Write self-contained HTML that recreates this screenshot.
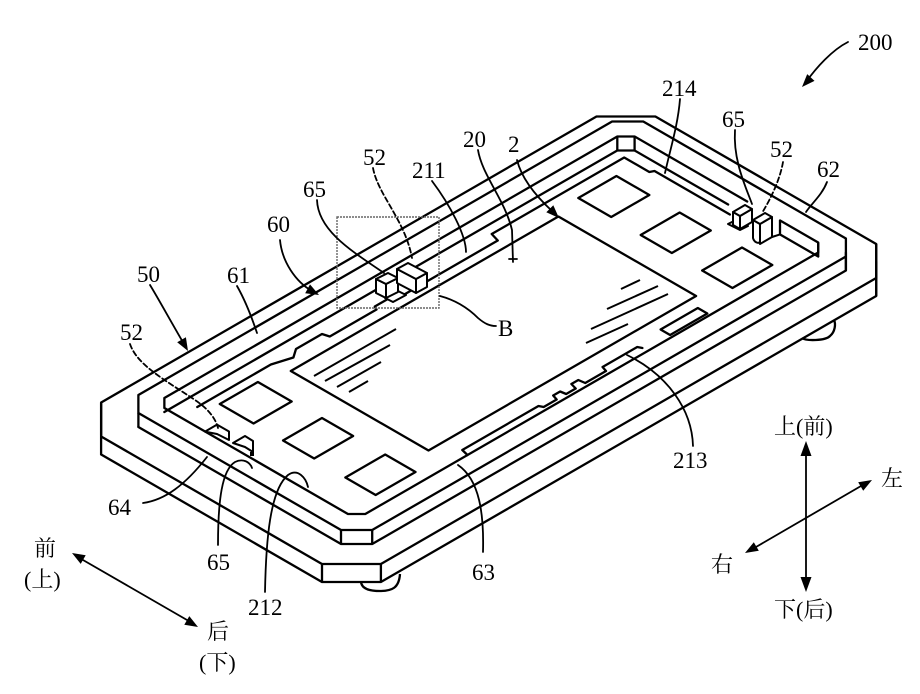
<!DOCTYPE html>
<html>
<head>
<meta charset="utf-8">
<style>
html,body{margin:0;padding:0;background:#fff;}
svg{display:block}
.s *{vector-effect:non-scaling-stroke}
text{font-family:"Liberation Serif","Noto Serif CJK SC",serif;fill:#000}
.n{font-size:23px}
.c{font-size:22px}
</style>
</head>
<body>
<svg width="920" height="694" viewBox="0 0 920 694" xmlns="http://www.w3.org/2000/svg">

<!-- ===== Plane geometry (isometric) ===== -->
<g class="s" fill="none" stroke="#000" stroke-width="2.3" stroke-linejoin="round" stroke-linecap="round">
  <!-- top plane -->
  <g transform="matrix(0.866,-0.5,0.866,0.5,71.7,419.5)">
    <!-- base plate 50 top face -->
    <polygon points="34,0 606,0 640,34 640,289 606,323 34,323 0,289 0,34"/>
    <!-- frame 60 top face outer -->
    <polygon points="63,14 610,14 628,32 628,266 610,284 63,284 45,266 45,32"/>
    <!-- frame inner edge (ring 61) -->
    <path d="M608,210 L608,254 L598,264 L75,264 L65,254 L65,42 L75,32 L598,32 L608,42 L608,172"/>
    <!-- chip 2 -->
    <polygon points="175,78 484,78 484,237 175,237"/>
    <!-- pads left -->
    <polygon points="101,70 145,70 145,109 101,109"/>
    <polygon points="101,143 146,143 146,179 101,179"/>
    <polygon points="100,216 146,216 146,251 100,251"/>
    <!-- pads right -->
    <polygon points="514,71 558,71 558,109 514,109"/>
    <polygon points="513,144 558,144 558,180 513,180"/>
    <polygon points="513,215 559,215 559,250 513,250"/>
    <!-- board 20 edges -->
    <polyline points="85,60 170,60 190,66 200,59 230,59 232,66 286,66 288,62 310,62 312,67 425,67 428,57 581,57 581,86 585,88 585,175"/>
    <polyline points="193,264 195,256 283,256 285,260 300,260 302,254 310,254 311,260 322,260 324,253 332,253 333,260 357,260 359,254 399,254 401,258"/>
    <polygon points="430,250 473,250 473,261 430,261"/>
  </g>
  <!-- base plate bottom edges -->
  <g transform="matrix(0.866,-0.5,0.866,0.5,71.7,437.5)">
    <polyline points="0,34 0,289 34,323 606,323 640,289"/>
  </g>
  <!-- frame bottom edges -->
  <g transform="matrix(0.866,-0.5,0.866,0.5,71.7,433.5)">
    <polyline points="45,32 45,266 63,284 610,284 628,266"/>
  </g>
  <!-- inner wall bottom -->
  <g transform="matrix(0.866,-0.5,0.866,0.5,71.7,433.5)">
    <polyline points="75,32 598,32 608,42 608,150"/>
    <polyline points="608,210 608,254"/>
  </g>
</g>

<!-- ===== vertical edges ===== -->
<g fill="none" stroke="#000" stroke-width="2.3">
  <path d="M101.1,402.5 V454.5"/>
  <path d="M876.2,244 V296"/>
  <path d="M322,564 V582 M380.9,564 V582"/>
  <path d="M138.4,413 V427"/>
  <path d="M845.9,256.5 V270.5"/>
  <path d="M341,530 V544 M372.2,530 V544"/>
  <path d="M617.3,136.5 V150.5 M634.6,136.5 V150.5"/>
  <path d="M818.2,242.5 V256.5"/>
  <path d="M780,220.4 V234.4"/>
  <!-- feet -->
  <path d="M361,582 C362,590 372,591 380,591 C392,591 399,588 400,574"/>
  <path d="M802,338 C806,341 825,341 830,336 C835,332 836,324 834,320"/>
</g>

<!-- ===== hatch lines on chip ===== -->
<g stroke="#000" stroke-width="2" fill="none">
  <path d="M314,376 L396,329"/>
  <path d="M325,381 L390,345"/>
  <path d="M337,387 L381,362"/>
  <path d="M349,392 L368,381"/>
  <path d="M621,289 L640,280"/>
  <path d="M607,309 L658,286"/>
  <path d="M591,329 L668,294"/>
  <path d="M586,343 L628,324"/>
</g>

<!-- ===== small blocks / notches ===== -->
<g stroke="#000" stroke-width="2" fill="#fff" stroke-linejoin="round">
  <!-- centre (B) -->
  <polygon points="385,298 398,291 406,295 393,302"/>
  <polygon points="376,279 386,284 386,298 376,293"/>
  <polygon points="386,284 398,278 398,292 386,298"/>
  <polygon points="376,279 388,273 398,278 386,284"/>
  <polygon points="397,269 416,279 416,293 397,283"/>
  <polygon points="416,279 427,273 427,287 416,293"/>
  <polygon points="397,269 408,263 427,273 416,279"/>
  <!-- right end -->
  <polygon points="728,224 736,220 748,226 740,230"/>
  <polygon points="733,212 740,216 740,229 733,225"/>
  <polygon points="740,216 752,209 752,222 740,229"/>
  <polygon points="733,212 745,205 752,209 740,216"/>
  <path d="M753,220 L760,224 L760,242 C758,244 754,242 753,238 Z"/>
  <polygon points="760,224 772,217 772,237 760,244"/>
  <polygon points="753,220 765,213 772,217 760,224"/>
  <path d="M772,237 L780,234.4" fill="none"/>
  <!-- left end notches -->
  <path d="M205,431.6 L217,424.6 L229,431.5 L229,440 L217,434 Z"/>
  <path d="M233,443 L245,436 L253,441 L253,452 L245,447 Z"/>
</g>
<rect x="250" y="452" width="4" height="4" fill="#000"/>

<!-- B detail box -->
<rect x="337" y="217" width="102" height="91" fill="none" stroke="#666" stroke-width="1.4" stroke-dasharray="2,1"/>

<!-- ===== leaders ===== -->
<g fill="none" stroke="#000" stroke-width="1.8" stroke-linecap="round">
  <path d="M848,42 C832,50 816,68 806,82"/>
  <path d="M680,99 C678,125 670,150 665,173"/>
  <path d="M735,130 C733,160 745,185 752,204"/>
  <path d="M783,162 C780,180 770,200 762,213" stroke-dasharray="5,3"/>
  <path d="M827,182 C822,195 812,203 806,212"/>
  <path d="M478,150 C482,175 505,200 512,230 L513,262"/>
  <path d="M509,259 L517,259"/>
  <path d="M517,160 C522,180 538,198 552,211"/>
  <path d="M432,181 C450,205 466,235 466,252"/>
  <path d="M373,168 C378,195 405,220 412,258" stroke-dasharray="5,3"/>
  <path d="M317,200 C318,230 350,250 384,273"/>
  <path d="M280,240 C282,262 296,282 312,291"/>
  <path d="M150,285 C158,298 170,320 184,344"/>
  <path d="M237,286 C245,300 252,318 257,333"/>
  <path d="M130,344 C137,365 165,380 195,400 C210,410 216,420 218,428" stroke-dasharray="5,3"/>
  <path d="M440,296 C455,300 468,308 478,318 C485,324 490,326 496,326"/>
  <path d="M693,446 C692,410 668,375 627,355"/>
  <path d="M483,552 C484,515 480,480 458,465"/>
  <path d="M265,592 C266,540 270,490 288,475 C298,468 306,478 308,487"/>
  <path d="M218,545 C218,500 222,470 235,462 C243,458 250,462 252,468"/>
  <path d="M143,503 C165,500 185,485 207,457"/>
  <!-- direction arrows -->
  <path d="M806,453 V580"/>
  <path d="M756,547 L861,486"/>
  <path d="M83,560 L187,620"/>
</g>

<!-- arrowheads -->
<g fill="#000" stroke="none">
  <polygon points="802,87 814.5,80.9 807.2,74.1"/>
  <polygon points="188,351 185.9,337.2 177.2,342.2"/>
  <polygon points="319,295 310,284.4 305.2,293.2"/>
  <polygon points="559,218 553.3,205.3 546.3,212.3"/>
  <polygon points="806,441 800.5,456 811.5,456"/>
  <polygon points="806,592 800.5,577 811.5,577"/>
  <polygon points="872,480 863.2,490.8 858.2,482.2"/>
  <polygon points="745,553 758.8,550.8 753.8,542.2"/>
  <polygon points="72,553 80.7,563.9 85.7,555.3"/>
  <polygon points="198,627 184.3,624.7 189.3,616.1"/>
</g>

<!-- ===== labels ===== -->
<g class="n">
  <text x="858" y="50">200</text>
  <text x="662" y="96">214</text>
  <text x="722" y="127">65</text>
  <text x="770" y="157">52</text>
  <text x="817" y="177">62</text>
  <text x="463" y="147">20</text>
  <text x="508" y="152">2</text>
  <text x="412" y="178">211</text>
  <text x="363" y="165">52</text>
  <text x="303" y="197">65</text>
  <text x="267" y="232">60</text>
  <text x="137" y="282">50</text>
  <text x="227" y="283">61</text>
  <text x="120" y="340">52</text>
  <text x="498" y="336">B</text>
  <text x="673" y="468">213</text>
  <text x="472" y="580">63</text>
  <text x="248" y="615">212</text>
  <text x="207" y="570">65</text>
  <text x="108" y="515">64</text>
</g>
<g class="c">
  <text x="774" y="434">上(前)</text>
  <text x="774" y="617">下(后)</text>
  <text x="881" y="486">左</text>
  <text x="711" y="572">右</text>
  <text x="34" y="556">前</text>
  <text x="24" y="587">(上)</text>
  <text x="207" y="639">后</text>
  <text x="199" y="670">(下)</text>
</g>
</svg>
</body>
</html>
